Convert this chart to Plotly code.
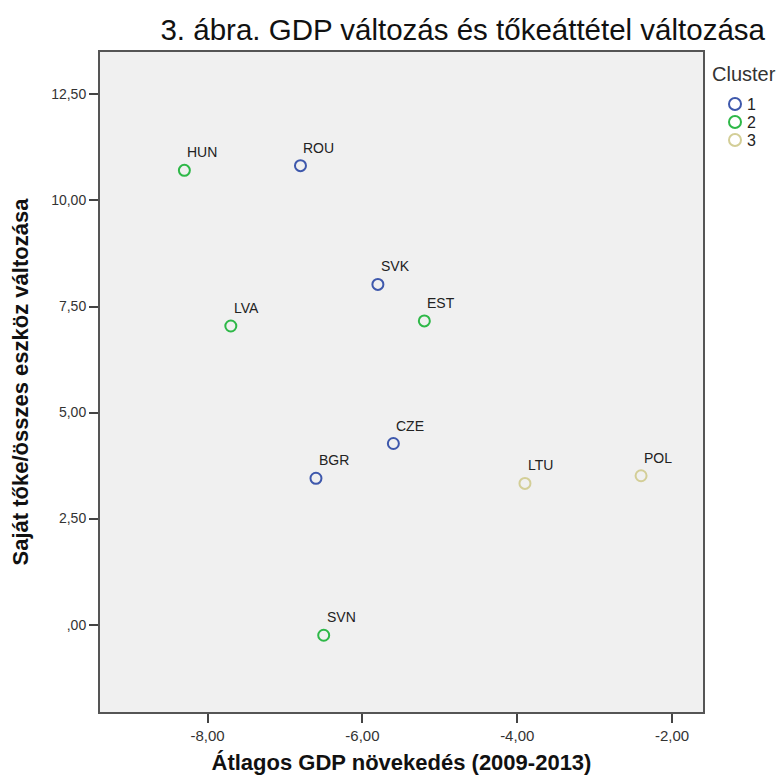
import plotly.graph_objects as go

# Country codes, average GDP growth 2009-2013 and change in equity/total assets
countries = ["HUN", "ROU", "SVK", "EST", "LVA", "CZE", "BGR", "LTU", "POL", "SVN"]
gdp_growth = [-8.30, -6.80, -5.80, -5.20, -7.70, -5.60, -6.60, -3.90, -2.40, -6.50]
equity_change = [10.71, 10.82, 8.02, 7.16, 7.04, 4.27, 3.45, 3.33, 3.51, -0.25]
cluster = [2, 1, 1, 2, 2, 1, 1, 3, 3, 2]

cluster_ids = [1, 2, 3]
cluster_colors = {1: "#3E58AC", 2: "#2EB848", 3: "#D3CE97"}

x_ticks = [-8, -6, -4, -2]
x_ticktext = ["-8,00", "-6,00", "-4,00", "-2,00"]
y_ticks = [0, 2.5, 5, 7.5, 10, 12.5]
y_ticktext = [",00", "2,50", "5,00", "7,50", "10,00", "12,50"]

FONT = "Liberation Sans, Arial, sans-serif"

fig = go.Figure()

for c in cluster_ids:
    idx = [i for i, k in enumerate(cluster) if k == c]
    fig.add_trace(go.Scatter(
        x=[gdp_growth[i] for i in idx],
        y=[equity_change[i] for i in idx],
        mode="markers",
        name=str(c),
        marker=dict(symbol="circle-open", size=11,
                    color=cluster_colors[c], line=dict(width=2)),
        showlegend=False,
        hoverinfo="text",
        text=[countries[i] for i in idx],
    ))

# Country labels above each point
for name, xv, yv in zip(countries, gdp_growth, equity_change):
    fig.add_annotation(x=xv, y=yv, text=name, showarrow=False,
                       xanchor="left", yanchor="middle", xshift=1, yshift=18,
                       font=dict(family=FONT, size=14, color="#222222"))

# Legend drawn at the right of the plot area
fig.add_annotation(xref="paper", yref="paper", x=1.0, y=1.0, xshift=7, yshift=-22,
                   text="Cluster", showarrow=False, xanchor="left", yanchor="middle",
                   font=dict(family=FONT, size=20, color="#333333"))
for k, c in enumerate(cluster_ids):
    fig.add_shape(type="circle", xref="paper", yref="paper",
                  xsizemode="pixel", ysizemode="pixel",
                  xanchor=1.0, yanchor=1.0,
                  x0=26, x1=38, y0=-46 - 18 * k, y1=-58 - 18 * k,
                  line=dict(color=cluster_colors[c], width=2),
                  fillcolor="rgba(0,0,0,0)")
    fig.add_annotation(xref="paper", yref="paper", x=1.0, y=1.0,
                       xshift=42, yshift=-52 - 18 * k,
                       text=str(c), showarrow=False, xanchor="left", yanchor="middle",
                       font=dict(family=FONT, size=16, color="#222222"))

fig.update_layout(
    width=777, height=783,
    margin=dict(l=100, r=74, t=52, b=67),
    paper_bgcolor="white",
    plot_bgcolor="#f0f0f0",
    font=dict(family=FONT, color="#222222"),
    title=dict(text="3. ábra. GDP változás és tőkeáttétel változása",
               x=765 / 777, xanchor="right", xref="container",
               y=1 - 30 / 783, yanchor="middle",
               font=dict(family=FONT, size=29.5, color="#111111")),
)

fig.update_xaxes(
    range=[-9.39, -1.60],
    tickvals=x_ticks, ticktext=x_ticktext,
    ticks="outside", ticklen=9, tickwidth=2, tickcolor="#444444",
    tickfont=dict(family=FONT, size=15, color="#333333"),
    showgrid=False, zeroline=False,
    showline=True, mirror=True, linewidth=2, linecolor="#555555",
    title=dict(text="<b>Átlagos GDP növekedés (2009-2013)</b>", standoff=12,
               font=dict(family=FONT, size=22, color="#111111")),
)
fig.update_yaxes(
    range=[-2.06, 13.50],
    tickvals=y_ticks, ticktext=y_ticktext,
    ticks="outside", ticklen=9, tickwidth=2, tickcolor="#444444",
    tickfont=dict(family=FONT, size=14, color="#333333"),
    showgrid=False, zeroline=False,
    showline=True, mirror=True, linewidth=2, linecolor="#555555",
    title=dict(text="<b>Saját tőke/összes eszköz változása</b>", standoff=16,
               font=dict(family=FONT, size=22, color="#111111")),
)

fig.write_html("out.html")
